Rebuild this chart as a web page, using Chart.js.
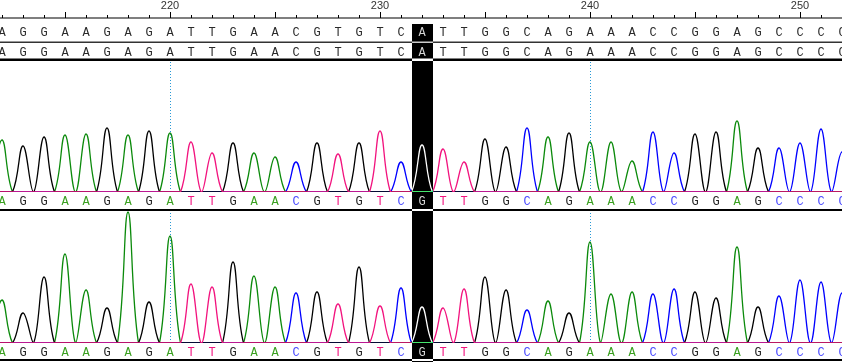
<!DOCTYPE html>
<html>
<head>
<meta charset="utf-8">
<script src="https://cdn.jsdelivr.net/npm/chart.js@4/dist/chart.umd.min.js"></script>
<style>
  html, body { margin: 0; padding: 0; background: #fff; }
  #wrap { position: relative; width: 842px; height: 362px; overflow: hidden; }
  canvas { position: absolute; left: 0; display: block; }
</style>
</head>
<body>
<div id="wrap">
  <canvas id="top" width="842" height="211" style="top:0"></canvas>
  <canvas id="bottom" width="842" height="151" style="top:211px"></canvas>
</div>
<script>
// base positions shown and the called sequence
const firstBase = 212;
const sequence = ["A","G","G","A","A","G","A","G","A","T","T","G","A","A","C","G","T","G","T","C",
                  "A","T","T","G","G","C","A","G","A","A","A","C","C","G","G","A","G","C","C","C","C"];
// sample read: position 232 is G instead of A
const sampleSeq = sequence.slice();
sampleSeq[20] = "G";
const highlightPos = 232;
const rulerLabels = [220, 230, 240, 250];
const guidePos = [220, 240];

// peak heights (one per base, 212..252)
const peaks1 = [52,46,55,57,58,64,57,61,59,50,39,49,39,35,30,49,38,49,61,30,
                47,43,30,53,45,64,55,59,50,50,31,60,39,58,60,71,44,44,49,63,40];
const peaks2 = [43,30,66,89,53,35,131,41,107,59,56,81,67,56,50,51,39,76,37,55,
                36,35,54,66,53,33,42,30,101,49,51,49,54,51,45,96,36,47,63,61,50];

const baseColors = { A: "#0b8a0b", C: "#0000ff", G: "#000000", T: "#f2137e" };
const letterColors = { A: "#3aa020", C: "#4a4aff", G: "#222222", T: "#f2137e" };
const channels = ["T", "G", "C", "A"];

const xMin = 220 - 170 / 21;
const xMax = 252;

function buildPoints(seq, peaks, ch) {
  const pts = [{ x: firstBase - 0.5, y: 0 }];
  seq.forEach((b, i) => {
    pts.push({ x: firstBase + i, y: b === ch ? peaks[i] : 0 });
    pts.push({ x: firstBase + i + 0.5, y: 0 });
  });
  return pts;
}

function datasets(seq, peaks) {
  return channels.map(ch => ({
    label: ch,
    data: buildPoints(seq, peaks, ch),
    borderColor: baseColors[ch],
    borderWidth: 1.3,
    pointRadius: 0,
    tension: 0.4,
    fill: false
  }));
}

function letterRow(ctx, scale, seq, y, colorFn) {
  ctx.save();
  ctx.font = "12px 'Liberation Mono', monospace";
  ctx.textAlign = "center";
  ctx.textBaseline = "middle";
  seq.forEach((b, i) => {
    ctx.fillStyle = colorFn(b);
    ctx.fillText(b, scale.getPixelForValue(firstBase + i), y);
  });
  ctx.restore();
}

function guides(ctx, scale, y0, y1) {
  ctx.save();
  ctx.strokeStyle = "#2a9ad6";
  ctx.lineWidth = 1;
  ctx.setLineDash([1, 2]);
  guidePos.forEach(p => {
    const x = Math.round(scale.getPixelForValue(p)) + 0.5;
    ctx.beginPath();
    ctx.moveTo(x, y0);
    ctx.lineTo(x, y1);
    ctx.stroke();
  });
  ctx.restore();
}

function invertBox(ctx, scale, y0, y1) {
  const x = scale.getPixelForValue(highlightPos - 0.5);
  const w = scale.getPixelForValue(highlightPos + 0.5) - x;
  ctx.save();
  ctx.globalCompositeOperation = "difference";
  ctx.fillStyle = "#fff";
  ctx.fillRect(Math.round(x), y0, Math.round(w), y1 - y0);
  ctx.restore();
}

const topDecor = {
  id: "topDecor",
  beforeDraw(chart) {
    const ctx = chart.ctx, xs = chart.scales.x;
    ctx.save();
    ctx.fillStyle = "#fff";
    ctx.fillRect(0, 0, chart.width, chart.height);
    // ruler
    ctx.fillStyle = "#000";
    ctx.fillRect(0, 17.5, chart.width, 1);
    for (let p = firstBase - 1; p <= 253; p++) {
      const x = Math.round(xs.getPixelForValue(p));
      const h = p % 5 === 0 ? 6 : 3;
      ctx.fillRect(x, 18 - h, 1, h);
    }
    ctx.font = "11px 'Liberation Sans', Arial, sans-serif";
    ctx.textAlign = "center";
    ctx.textBaseline = "middle";
    ctx.fillStyle = "#333";
    rulerLabels.forEach(l => ctx.fillText(String(l), xs.getPixelForValue(l), 6));
    // reference rows
    ctx.fillRect(0, 41.5, chart.width, 1.5);
    ctx.fillStyle = "#000";
    ctx.fillRect(0, 58.5, chart.width, 2.5);
    ctx.fillRect(0, 209, chart.width, 2);
    ctx.restore();
    letterRow(ctx, xs, sequence, 33, () => "#2a2a2a");
    letterRow(ctx, xs, sequence, 53, () => "#2a2a2a");
    guides(ctx, xs, 62, 192);
  },
  afterDraw(chart) {
    const ctx = chart.ctx, xs = chart.scales.x;
    letterRow(ctx, xs, sampleSeq, 202, b => letterColors[b]);
    invertBox(ctx, xs, 24, 211);
  }
};

const bottomDecor = {
  id: "bottomDecor",
  beforeDraw(chart) {
    const ctx = chart.ctx, xs = chart.scales.x;
    ctx.save();
    ctx.fillStyle = "#fff";
    ctx.fillRect(0, 0, chart.width, chart.height);
    ctx.fillStyle = "#000";
    ctx.fillRect(0, 148, chart.width, 2);
    ctx.restore();
    guides(ctx, xs, 2, 132);
  },
  afterDraw(chart) {
    const ctx = chart.ctx, xs = chart.scales.x;
    letterRow(ctx, xs, sampleSeq, 142, b => letterColors[b]);
    invertBox(ctx, xs, 0, chart.height);
  }
};

function makeChart(id, seq, peaks, pad, yMax, plugin) {
  return new Chart(document.getElementById(id), {
    type: "line",
    data: { datasets: datasets(seq, peaks) },
    options: {
      responsive: false,
      animation: false,
      devicePixelRatio: 1,
      layout: { padding: pad },
      plugins: { legend: { display: false }, tooltip: { enabled: false } },
      scales: {
        x: { type: "linear", min: xMin, max: xMax, display: false },
        y: { min: 0, max: yMax, display: false }
      }
    },
    plugins: [plugin]
  });
}

makeChart("top", sampleSeq, peaks1, { top: 62, bottom: 19, left: 0, right: 0 }, 130, topDecor);
makeChart("bottom", sampleSeq, peaks2, { top: 0, bottom: 19, left: 0, right: 0 }, 132, bottomDecor);
</script>
</body>
</html>
